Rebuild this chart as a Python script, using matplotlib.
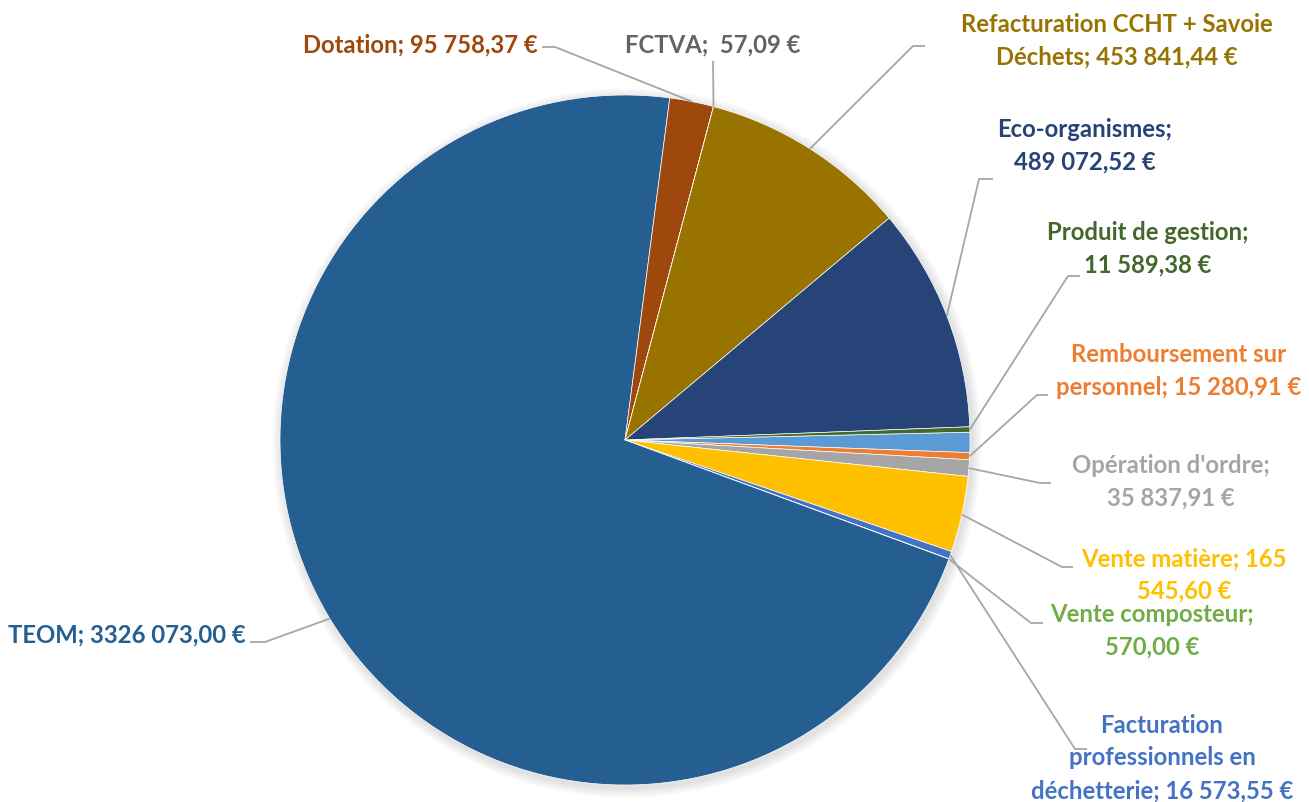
import matplotlib.pyplot as plt
from matplotlib.patches import Circle
import numpy as np

W, H = 1309, 803

# data, in the order of the source table (clockwise from the first slice)
categories = ['', 'Remboursement sur personnel', "Opération d'ordre", 'Vente matière',
              'Facturation professionnels en déchetterie', 'Vente composteur', 'TEOM',
              'Dotation', 'FCTVA', 'Refacturation CCHT + Savoie Déchets',
              'Eco-organismes', 'Produit de gestion']
values = [44000.00, 15280.91, 35837.91, 165545.60, 16573.55, 570.00, 3326073.00,
          95758.37, 57.09, 453841.44, 489072.52, 11589.38]
colors = ['#5B9BD5', '#ED7D31', '#A5A5A5', '#FFC000', '#4472C4', '#70AD47',
          '#255E91', '#9E480E', '#636363', '#997300', '#264478', '#43682B']
label_texts = [None,
               'Remboursement sur\npersonnel; 15 280,91 €',
               "Opération d'ordre;\n35 837,91 €",
               'Vente matière; 165\n545,60 €',
               'Facturation\nprofessionnels en\ndéchetterie; 16 573,55 €',
               'Vente composteur;\n570,00 €',
               'TEOM; 3326 073,00 €',
               'Dotation; 95 758,37 €',
               'FCTVA;  57,09 €',
               'Refacturation CCHT + Savoie\nDéchets; 453 841,44 €',
               'Eco-organismes;\n489 072,52 €',
               'Produit de gestion;\n11 589,38 €']

# label placement (pixel coords, y down): text centre, elbow of leader, end of leader
text_pos = [None, (1179, 371), (1171, 482), (1184, 575), (1162, 758), (1152, 631),
            (127, 635), (420, 45), (713, 45), (1117, 41), (1085, 146), (1148, 249)]
elbows = [None, (1037, 396), (1040, 484), (1062, 568), (1075, 750), (1031, 624),
          (265, 643), (555, 48), (713, 62), (913, 47), (979, 180), (1068, 277)]
ends = [None, (1048, 396), (1051, 484), (1073, 568), (1087, 750), (1043, 624),
        (250, 643), (542, 48), (713, 62), (925, 47), (993, 180), (1080, 277)]

cx, cy, r = 625, 441, 345

plt.rcParams['font.family'] = ['Lato', 'DejaVu Sans']

fig = plt.figure(figsize=(W / 100, H / 100), dpi=100)
ax = fig.add_axes([0, 0, 1, 1])

def py(y):
    return H - y

# soft shadow behind the pie
for k in range(10):
    ax.add_patch(Circle((cx + 2, py(cy) - 3), r + 10 - k, color='black',
                        alpha=0.012, lw=0, zorder=0))

wedges, _ = ax.pie(values, colors=colors, startangle=1.3, counterclock=False,
                   center=(cx, py(cy)), radius=r, frame=True,
                   wedgeprops={'edgecolor': 'white', 'linewidth': 0.5})
ax.set_xlim(0, W)
ax.set_ylim(0, H)
ax.set_aspect('equal')
ax.axis('off')

for i, w in enumerate(wedges):
    if label_texts[i] is None:
        continue
    mid = np.deg2rad((w.theta1 + w.theta2) / 2)
    ax_, ay_ = cx + r * np.cos(mid), py(cy) + r * np.sin(mid)
    ex, ey = elbows[i]
    tx, ty = ends[i]
    ax.plot([ax_, ex, tx], [ay_, py(ey), py(ty)], color='#A6A6A6', lw=1.3,
            zorder=1, solid_capstyle='butt')
    x, y = text_pos[i]
    ax.text(x, py(y), label_texts[i], color=colors[i], fontsize=17.2,
            fontweight='bold', ha='center', va='center', linespacing=1.5)

fig.savefig('out.png', dpi=100)
